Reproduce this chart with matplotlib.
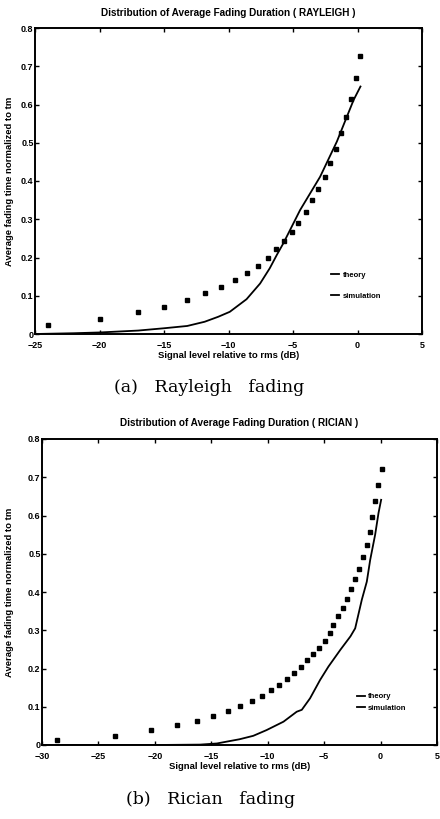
import matplotlib
matplotlib.use("Agg")
import matplotlib.pyplot as plt
from matplotlib.lines import Line2D

# Rayleigh fading: simulation points and theory curve
ray_sim_x = [-24.0, -20.0, -17.0, -15.0, -13.2, -11.85, -10.6, -9.5, -8.55, -7.75,
             -6.95, -6.3, -5.67, -5.1, -4.64, -4.02, -3.55, -3.04, -2.52, -2.13,
             -1.67, -1.28, -0.87, -0.47, -0.1, 0.2]
ray_sim_y = [0.024, 0.040, 0.057, 0.071, 0.088, 0.106, 0.123, 0.141, 0.160, 0.179,
             0.200, 0.221, 0.243, 0.267, 0.289, 0.320, 0.350, 0.378, 0.410, 0.446,
             0.483, 0.525, 0.567, 0.614, 0.668, 0.727]
ray_th_x = [-25, -22, -20, -17, -15, -13.2, -11.85, -10.8, -9.9, -8.6, -7.55, -6.8,
            -6.25, -5.75, -4.45, -2.9, -1.6, -0.3, 0.23]
ray_th_y = [0.0, 0.002, 0.004, 0.009, 0.015, 0.021, 0.032, 0.045, 0.058, 0.091, 0.132,
            0.172, 0.207, 0.237, 0.324, 0.411, 0.503, 0.612, 0.647]

# Rician fading: simulation points and theory curve
ric_sim_x = [-28.67, -23.55, -20.35, -18.0, -16.3, -14.83, -13.55, -12.46, -11.42, -10.48,
             -9.73, -8.97, -8.26, -7.67, -7.05, -6.54, -5.95, -5.42, -4.92, -4.47,
             -4.18, -3.74, -3.35, -2.99, -2.58, -2.23, -1.9, -1.57, -1.22, -0.98,
             -0.75, -0.52, -0.25, 0.1]
ric_sim_y = [0.013, 0.024, 0.039, 0.052, 0.064, 0.076, 0.090, 0.102, 0.115, 0.129,
             0.143, 0.157, 0.173, 0.188, 0.205, 0.221, 0.237, 0.253, 0.273, 0.292,
             0.314, 0.336, 0.359, 0.382, 0.408, 0.434, 0.461, 0.491, 0.524, 0.558,
             0.596, 0.637, 0.680, 0.722]
ric_th_x = [-30, -25, -20, -16, -14.5, -13.6, -12.5, -11.28, -10.1, -8.6, -7.43, -6.98,
            -6.25, -5.36, -4.62, -3.56, -2.67, -2.25, -1.66, -1.22, -0.92, -0.48, -0.18, 0.05]
ric_th_y = [0, 0, 0, 0.001, 0.004, 0.009, 0.015, 0.024, 0.039, 0.061, 0.087, 0.092,
            0.122, 0.170, 0.205, 0.249, 0.284, 0.305, 0.380, 0.427, 0.484, 0.550, 0.607, 0.641]

y_ticks = [0, 0.1, 0.2, 0.3, 0.4, 0.5, 0.6, 0.7, 0.8]
y_tick_labels = ["0", "0.1", "0.2", "0.3", "0.4", "0.5", "0.6", "0.7", "0.8"]

plt.rcParams['font.family'] = ['Liberation Sans', 'DejaVu Sans']


def draw_panel(ax, sim_x, sim_y, th_x, th_y, xlim, title, leg_anchor, leg_spacing, ylab_x):
    ax.plot(th_x, th_y, color="black", lw=1.3)
    ax.plot(sim_x, sim_y, ls="none", marker="s", ms=2.8, color="black")
    ax.set_xlim(*xlim)
    ax.set_ylim(0, 0.8)
    ax.set_xticks(range(xlim[0], xlim[1] + 1, 5))
    ax.set_yticks(y_ticks)
    ax.set_yticklabels(y_tick_labels)
    ax.tick_params(direction="in", length=3, width=1, top=True, right=True,
                   labelsize=6.5)
    ax.tick_params(axis="x", pad=5)
    ax.tick_params(axis="y", pad=1)
    for lab in ax.get_xticklabels() + ax.get_yticklabels():
        lab.set_fontweight("bold")
    for sp in ax.spines.values():
        sp.set_linewidth(1.4)
    ax.set_title(title, fontsize=7.2, fontweight="bold", pad=9)
    ax.set_xlabel("Signal level relative to rms (dB)", fontsize=6.8,
                  fontweight="bold", labelpad=1)
    ax.set_ylabel("Average fading time normalized to tm", fontsize=6.8,
                  fontweight="bold")
    ax.yaxis.set_label_coords(ylab_x, 0.5)
    handles = [Line2D([], [], color="black", lw=1.3),
               Line2D([], [], color="black", lw=1.3)]
    ax.legend(handles, ["theory", "simulation"], loc="center left",
              bbox_to_anchor=leg_anchor, frameon=False, handlelength=1.1,
              handletextpad=0.4, labelspacing=leg_spacing, borderpad=0,
              prop={"size": 5.5, "weight": "bold"})


fig = plt.figure(figsize=(4.4, 8.19), dpi=100)
ax1 = fig.add_axes([35 / 440, 1 - 334 / 819, 387 / 440, 306 / 819])
ax2 = fig.add_axes([42 / 440, 1 - 745 / 819, 395 / 440, 306 / 819])

draw_panel(ax1, ray_sim_x, ray_sim_y, ray_th_x, ray_th_y, (-25, 5),
           "Distribution of Average Fading Duration ( RAYLEIGH )", (0.755, 0.158), 1.8, -0.055)
draw_panel(ax2, ric_sim_x, ric_sim_y, ric_th_x, ric_th_y, (-30, 5),
           "Distribution of Average Fading Duration ( RICIAN )", (0.787, 0.139), 0.6, -0.07)

fig.text(0.475, 1 - 388 / 819, "(a)   Rayleigh   fading", ha="center", va="center",
         fontsize=12.5, family="DejaVu Serif")
fig.text(0.478, 1 - 800 / 819, "(b)   Rician   fading", ha="center", va="center",
         fontsize=12.5, family="DejaVu Serif")

fig.savefig("out.png", dpi=100)
